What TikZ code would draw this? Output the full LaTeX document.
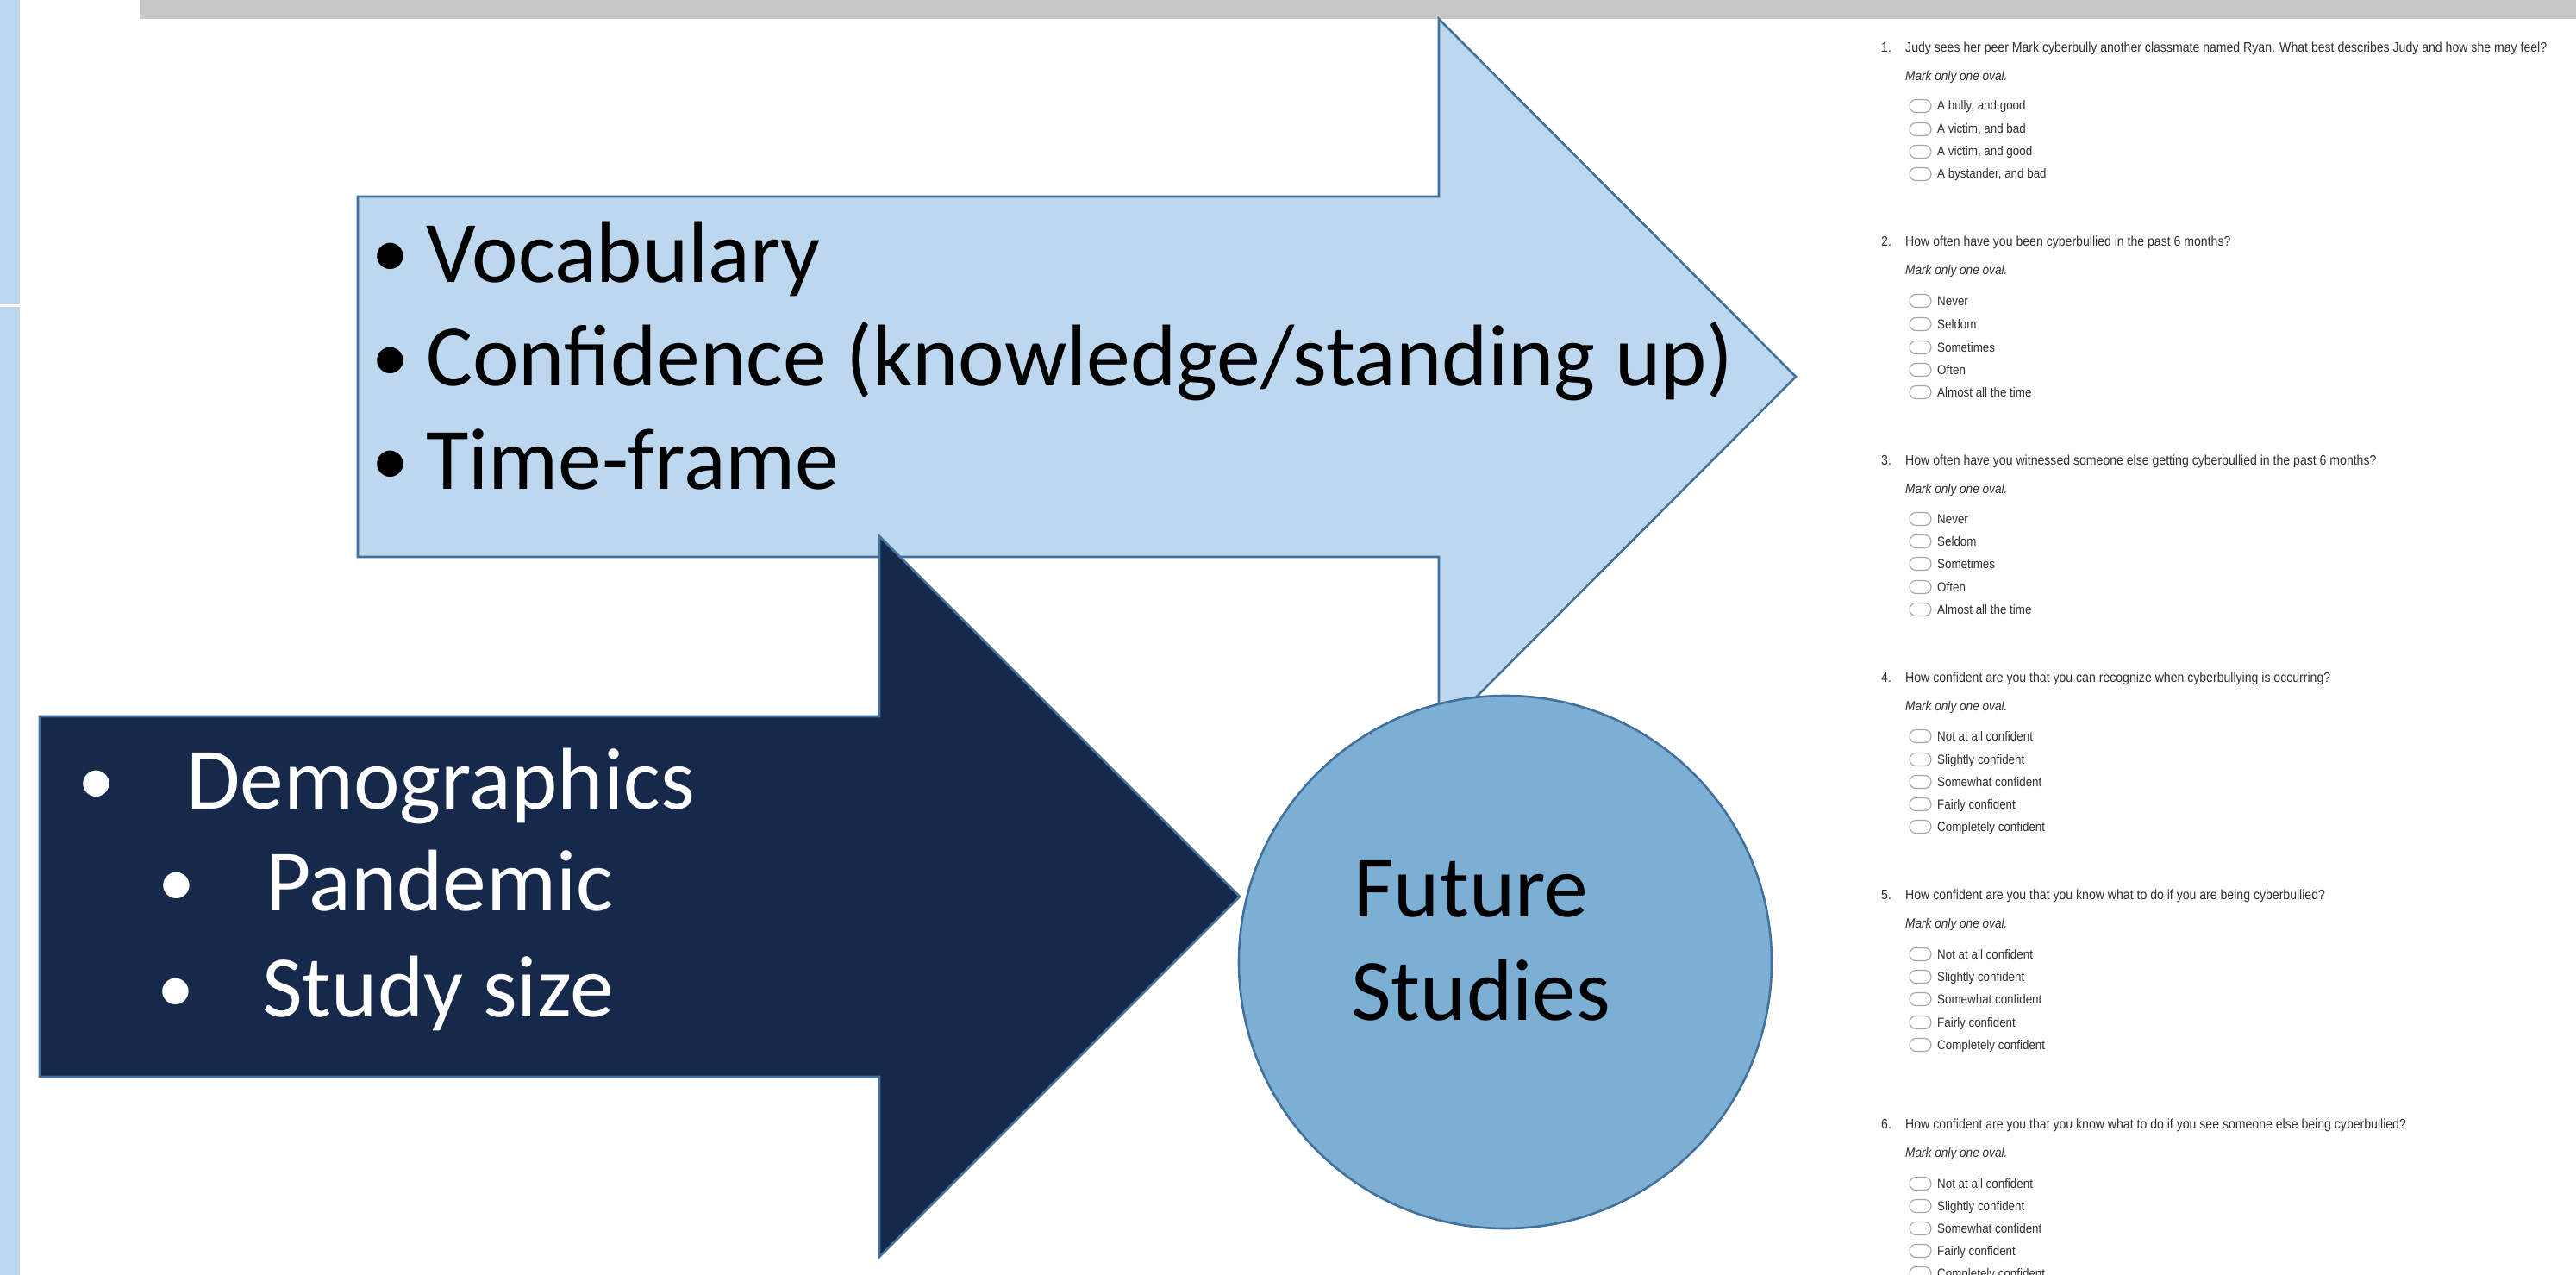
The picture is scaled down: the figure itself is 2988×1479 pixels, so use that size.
\documentclass[tikz,border=0pt]{standalone}
\usepackage{fontspec}
\setmainfont{Carlito}
\newfontfamily\formfont[FakeStretch=0.88]{Liberation Sans}
\definecolor{stripblue}{HTML}{BDD7EE}
\definecolor{bargray}{HTML}{C8C8C8}
\definecolor{lightfill}{HTML}{BDD7EE}
\definecolor{edgeblue}{HTML}{41719C}
\definecolor{navyfill}{HTML}{16294B}
\definecolor{circfill}{HTML}{7BAFD4}
\definecolor{formtext}{HTML}{303030}
\definecolor{ovalgray}{HTML}{A8A8A8}
\tikzset{
  bigtext/.style={inner sep=0pt, font=\fontsize{101.5}{122}\selectfont},
  bullettext/.style={inner sep=0pt, font=\fontsize{86}{100}\selectfont},
  qtext/.style={inner sep=0pt, text=formtext, font=\formfont\fontsize{16}{19}\selectfont},
  mtext/.style={inner sep=0pt, text=formtext, font=\formfont\itshape\fontsize{15.5}{18}\selectfont},
  otext/.style={inner sep=0pt, text=formtext, font=\formfont\fontsize{15.2}{18}\selectfont},
  ovalbox/.style={draw=ovalgray, line width=1.2pt, rounded corners=7.5pt, minimum width=25pt, minimum height=15pt, inner sep=0pt},
  shapeedge/.style={draw=edgeblue, line width=2.6pt, line join=miter},
}
\newcommand\formq[4]{%
  \node[qtext, anchor=base west] (n#1) at (2182,#2+6) {#3.};
  \node[qtext, anchor=base west] (q#1) at (2210,#2+6) {#4};
  \node[mtext, anchor=base west] (m#1) at (2210,#2+39) {Mark only one oval.};
}
\newcommand\formopt[3]{%
  \node[ovalbox] (b#1) at (2227.5,#2) {};
  \node[otext, anchor=base west] (t#1) at (2247,#2+5) {#3};
}
\begin{document}
\begin{tikzpicture}[x=1pt,y=-1pt]
\useasboundingbox (0,0) rectangle (2988,1479);
\clip (0,0) rectangle (2988,1479);
\fill[white] (0,0) rectangle (2988,1479);
% left strip and top bar
\fill[stripblue] (0,0) rectangle (23,1479);
\fill[white] (0,353) rectangle (23,356);
\fill[bargray] (162,0) rectangle (2988,22);
% light blue arrow
\path[shapeedge, fill=lightfill] (415,228) -- (1669,228) -- (1669,22) -- (2083,437) -- (1669,852) -- (1669,646) -- (415,646) -- cycle;
\node[bullettext, anchor=base] (lb1) at (453,322) {•};
\node[bigtext, anchor=base west] (lt1) at (494,327) {Vocabulary};
\node[bullettext, anchor=base] (lb2) at (453,442) {•};
\node[bigtext, anchor=base west] (lt2) at (494,447) {Confidence (knowledge/standing up)};
\node[bullettext, anchor=base] (lb3) at (453,562) {•};
\node[bigtext, anchor=base west] (lt3) at (494,567) {Time-frame};
% dark arrow
\path[shapeedge, fill=navyfill] (46,831) -- (1020,831) -- (1020,622) -- (1438,1040) -- (1020,1458) -- (1020,1249) -- (46,1249) -- cycle;
\node[bullettext, text=white, anchor=base] (db1) at (112,933) {•};
\node[bigtext, text=white, anchor=base west] (dt1) at (216,938) {Demographics};
\node[bullettext, text=white, anchor=base] (db2) at (205,1051) {•};
\node[bigtext, text=white, anchor=base west] (dt2) at (308,1056) {Pandemic};
\node[bullettext, text=white, anchor=base] (db3) at (204,1174) {•};
\node[bigtext, text=white, anchor=base west] (dt3) at (304,1179) {Study size};
% circle
\node[circle, draw=edgeblue, line width=2.6pt, fill=circfill, minimum size=618pt, inner sep=0pt] (fs) at (1746,1116) {};
\node[bigtext, anchor=base west] (fs1) at (1570,1063) {Future};
\node[bigtext, anchor=base west] (fs2) at (1567,1183) {Studies};
% questionnaire
\formq{1}{55}{1}{Judy sees her peer Mark cyberbully another classmate named Ryan. What best describes Judy and how she may feel?}
\formopt{1a}{123}{A bully, and good}
\formopt{1b}{150}{A victim, and bad}
\formopt{1c}{176}{A victim, and good}
\formopt{1d}{202}{A bystander, and bad}
\formq{2}{280}{2}{How often have you been cyberbullied in the past 6 months?}
\formopt{2a}{349}{Never}
\formopt{2b}{376}{Seldom}
\formopt{2c}{403}{Sometimes}
\formopt{2d}{429}{Often}
\formopt{2e}{455}{Almost all the time}
\formq{3}{533}{3}{How often have you witnessed someone else getting cyberbullied in the past 6 months?}
\formopt{3a}{602}{Never}
\formopt{3b}{628}{Seldom}
\formopt{3c}{654}{Sometimes}
\formopt{3d}{681}{Often}
\formopt{3e}{707}{Almost all the time}
\formq{4}{785}{4}{How confident are you that you can recognize when cyberbullying is occurring?}
\formopt{4a}{854}{Not at all confident}
\formopt{4b}{881}{Slightly confident}
\formopt{4c}{907}{Somewhat confident}
\formopt{4d}{933}{Fairly confident}
\formopt{4e}{959}{Completely confident}
\formq{5}{1037}{5}{How confident are you that you know what to do if you are being cyberbullied?}
\formopt{5a}{1107}{Not at all confident}
\formopt{5b}{1133}{Slightly confident}
\formopt{5c}{1159}{Somewhat confident}
\formopt{5d}{1186}{Fairly confident}
\formopt{5e}{1212}{Completely confident}
\formq{6}{1303}{6}{How confident are you that you know what to do if you see someone else being cyberbullied?}
\formopt{6a}{1373}{Not at all confident}
\formopt{6b}{1399}{Slightly confident}
\formopt{6c}{1425}{Somewhat confident}
\formopt{6d}{1451}{Fairly confident}
\formopt{6e}{1477}{Completely confident}
\end{tikzpicture}
\end{document}
